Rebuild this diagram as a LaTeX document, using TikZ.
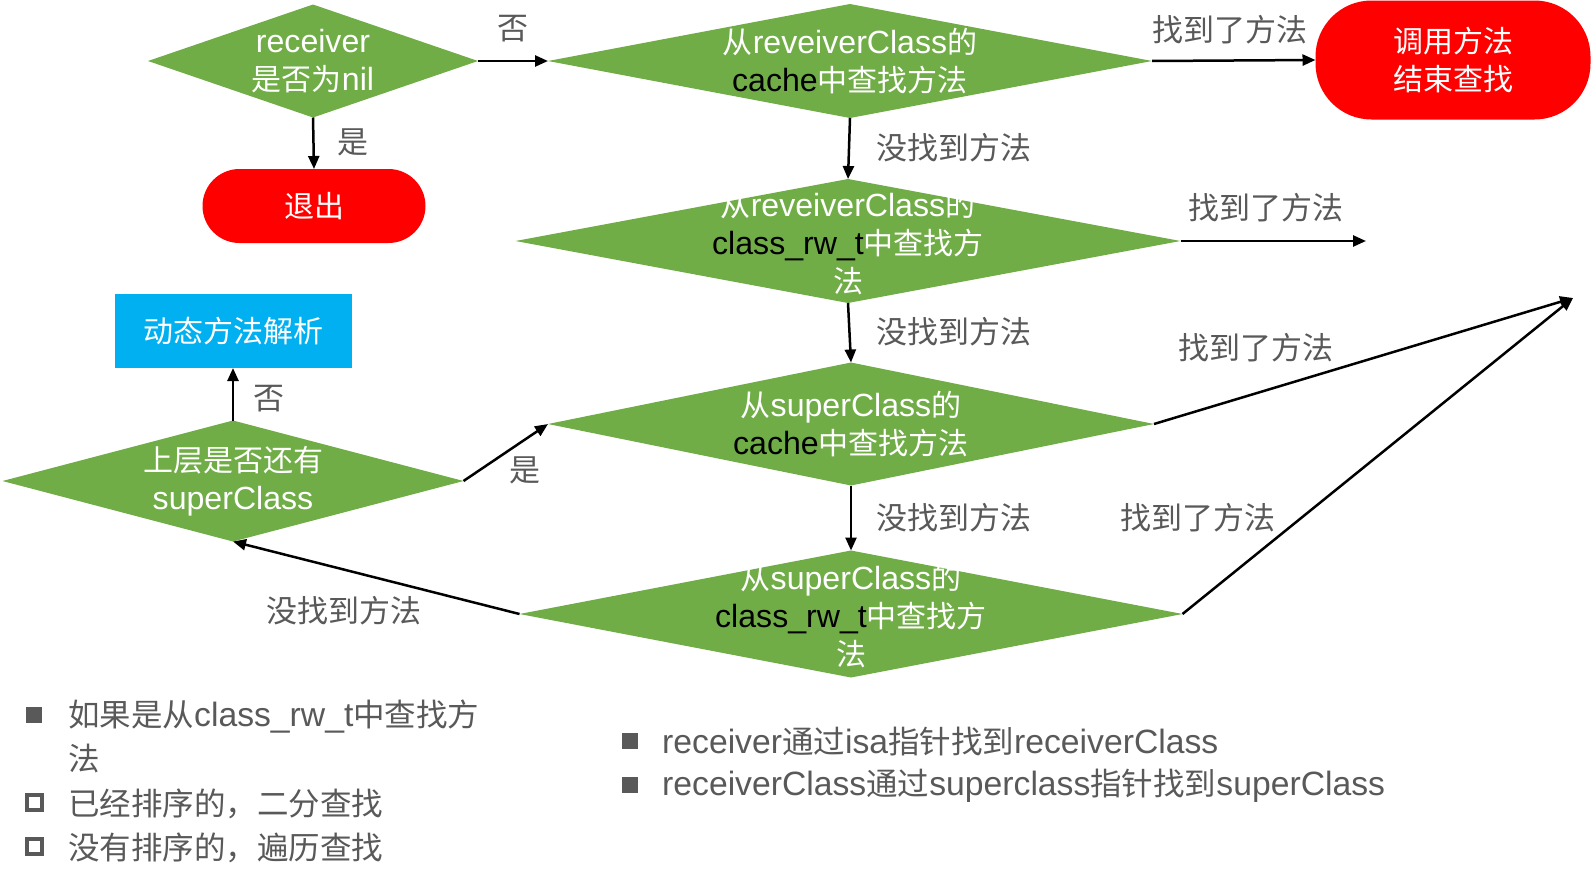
\documentclass[tikz,border=0pt]{standalone}
\usepackage{fontspec}
\setmainfont{Liberation Sans}[Scale=1.07]
\newfontfamily\zhfont{Noto Sans CJK SC}
\newcommand{\zh}[1]{{\zhfont #1}}
\usetikzlibrary{shapes.geometric,arrows.meta}
\definecolor{flowgreen}{HTML}{70AD47}
\definecolor{flowred}{HTML}{FF0000}
\definecolor{flowblue}{HTML}{00B0F0}
\definecolor{notegray}{HTML}{595959}

\begin{document}
\begin{tikzpicture}[x=1pt, y=-1pt,
	dia/.style={diamond, fill=flowgreen, inner sep=0pt, outer sep=0pt},
	term/.style={rectangle, fill=flowred, inner sep=0pt, outer sep=0pt},
	intext/.style={text=white, align=center, inner sep=0pt, font=\fontsize{30}{38}\selectfont},
	lbl/.style={text=notegray, inner sep=0pt, font=\zhfont\fontsize{31}{36}\selectfont},
	note/.style={text=notegray, inner sep=0pt, anchor=west, font=\fontsize{31.5}{36}\selectfont},
	flow/.style={-{Triangle[length=13pt,width=11pt]}, line width=2.5pt},
]
	\useasboundingbox (0,0) rectangle (1592,870);
	% shapes
	\node[dia, minimum width=330, minimum height=113] (nil) at (313,61) {};
	\node[term, minimum width=223, minimum height=74, rounded corners=37] (quit) at (314,206) {};
	\node[dia, minimum width=604, minimum height=114] (cache) at (850,61) {};
	\node[term, minimum width=275, minimum height=119, rounded corners=56] (found) at (1453,60) {};
	\node[dia, minimum width=665, minimum height=124] (rwt) at (848,241) {};
	\node[dia, minimum width=606, minimum height=123] (supcache) at (851,424) {};
	\node[dia, minimum width=663, minimum height=127] (suprwt) at (851,614) {};
	\node[dia, minimum width=461, minimum height=121] (hassup) at (233,481) {};
	\node[rectangle, fill=flowblue, minimum width=237, minimum height=74, inner sep=0pt, outer sep=0pt] (resolve) at (233,331) {};

	\node[intext] at (nil) {receiver\\\zh{是否为}nil};
	\node[intext] at (quit) {\zh{退出}};
	\node[intext] at (cache) {\zh{从}reveiverClass\zh{的}\\\textcolor{black}{cache}\zh{中查找方法}};
	\node[intext] at (found) {\zh{调用方法}\\\zh{结束查找}};
	\node[intext] at ([yshift=-2pt]rwt) {\zh{从}reveiverClass\zh{的}\\\textcolor{black}{class\_rw\_t}\zh{中查找方}\\\zh{法}};
	\node[intext] at (supcache) {\zh{从}superClass\zh{的}\\\textcolor{black}{cache}\zh{中查找方法}};
	\node[intext] at ([yshift=-2pt]suprwt) {\zh{从}superClass\zh{的}\\\textcolor{black}{class\_rw\_t}\zh{中查找方}\\\zh{法}};
	\node[intext] at (hassup) {\zh{上层是否还有}\\superClass};
	\node[intext] at (resolve) {\zh{动态方法解析}};

	% connectors
	\coordinate (rwtend) at (1366,241);
	\coordinate (foundend) at (1573,298);
	\draw[flow] (nil.east) -- (cache.west);
	\draw[flow] (nil.south) -- (quit.north);
	\draw[flow] (cache.east) -- (found.west);
	\draw[flow] (cache.south) -- (rwt.north);
	\draw[flow] (rwt.east) -- (rwtend);
	\draw[flow] (rwt.south) -- (supcache.north);
	\draw[flow] (supcache.south) -- (suprwt.north);
	\draw[flow] (supcache.east) -- (foundend);
	\draw[flow] (suprwt.east) -- (foundend);
	\draw[flow] (suprwt.west) -- (hassup.south);
	\draw[flow] (hassup.east) -- (supcache.west);
	\draw[flow] (hassup.north) -- (resolve.south);

	\node[lbl] at (513,29) {否};
	\node[lbl] at (353,142) {是};
	\node[lbl] at (1230,30) {找到了方法};
	\node[lbl] at (954,148) {没找到方法};
	\node[lbl] at (1266,208) {找到了方法};
	\node[lbl] at (954,332) {没找到方法};
	\node[lbl] at (1256,348) {找到了方法};
	\node[lbl] at (954,518) {没找到方法};
	\node[lbl] at (1198,518) {找到了方法};
	\node[lbl] at (269,399) {否};
	\node[lbl] at (525,470) {是};
	\node[lbl] at (344,611) {没找到方法};

	% notes
	\fill[notegray] (25.5,707) rectangle (42,723);
	\draw[notegray, line width=3.6pt] (27,795) rectangle (42,810);
	\draw[notegray, line width=3.6pt] (27,839) rectangle (42,854);
	\node[note] at (68,717) {\zh{如果是从}class\_rw\_t\zh{中查找方}};
	\node[note] at (68,759) {\zh{法}};
	\node[note] at (68,804) {\zh{已经排序的，二分查找}};
	\node[note] at (68,848) {\zh{没有排序的，遍历查找}};
	\fill[notegray] (622,733) rectangle (638,749);
	\fill[notegray] (622,777) rectangle (638,793);
	\node[note] at (662,742) {receiver\zh{通过}isa\zh{指针找到}receiverClass};
	\node[note] at (662,786) {receiverClass\zh{通过}superclass\zh{指针找到}superClass};
\end{tikzpicture}
\end{document}
